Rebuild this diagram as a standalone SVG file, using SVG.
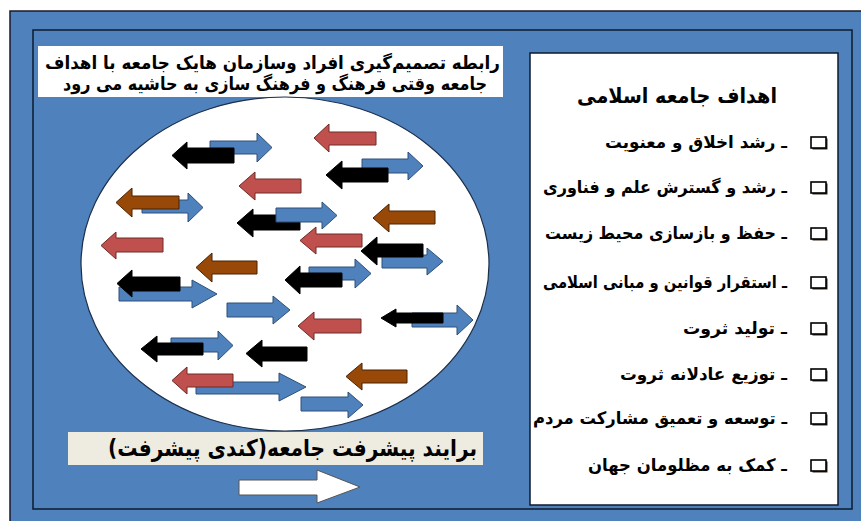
<svg xmlns="http://www.w3.org/2000/svg" xmlns:xlink="http://www.w3.org/1999/xlink" width="861" height="521" viewBox="0 0 861 521">
<style>
.t{font-family:"DejaVu Sans",sans-serif;font-weight:bold;fill:#000;}
.ab{fill:#4F81BD;stroke:#2E4F78;stroke-width:1;}
.ar{fill:#C0504D;stroke:#6E2A28;stroke-width:1;}
.an{fill:#984807;stroke:#4A2303;stroke-width:1;}
.ak{fill:#000;stroke:#000;stroke-width:1;}
</style>
<defs>
<g id="chk">
<rect x="1.5" y="1.5" width="15" height="11" fill="#3a2a1a"/>
<rect x="0" y="0" width="15" height="11" fill="#fff" stroke="#000" stroke-width="1.6"/>
</g>
</defs>
<rect x="0" y="0" width="861" height="521" fill="#fff"/>
<g id="frame">
<rect x="10" y="11" width="860" height="520" fill="#4F81BD" stroke="#1a1a2a" stroke-width="1.5"/>
<rect x="33" y="30" width="819" height="479" fill="#4F81BD" stroke="#0d1b2e" stroke-width="1.5"/>
</g>
<g id="title-box">
<rect x="38" y="46" width="465" height="51" fill="#fff"/>
<text class="t" x="272.5" y="69" font-size="18" text-anchor="middle" direction="rtl" textLength="455" lengthAdjust="spacingAndGlyphs">رابطه تصمیم‌گیری افراد وسازمان هایک جامعه با اهداف</text>
<text class="t" x="275" y="90" font-size="18" text-anchor="middle" direction="rtl" textLength="424" lengthAdjust="spacingAndGlyphs">جامعه وقتی فرهنگ و فرهنگ سازی به حاشیه می رود</text>
</g>
<g id="society-circle">
<ellipse cx="285" cy="264" rx="204" ry="167" fill="#fff" stroke="#1c2f4a" stroke-width="1.2"/>
</g>
<g id="arrows">
<path class="ab" d="M210 141H257V133L272 147.5L257 162V154H210Z"/>
<path class="ak" d="M234 148H187V142L172 155.5L187 169V163H234Z"/>
<path class="ar" d="M376 132H329V124L314 138L329 152V145H376Z"/>
<path class="ab" d="M362 159H408V152L423 166L408 180V173H362Z"/>
<path class="ak" d="M388 168H342V161L326 175L342 189V182H388Z"/>
<path class="ar" d="M301 179H255V172L239 186L255 200V193H301Z"/>
<path class="ab" d="M142 200H188V193L203 207.5L188 222V213H142Z"/>
<path class="an" d="M179 196H132V188L116 202.5L132 217V209H179Z"/>
<path class="ak" d="M300 215H253V209L237 223L253 237V230H300Z"/>
<path class="ab" d="M276 208H322V202L337 215.5L322 229V222H276Z"/>
<path class="an" d="M435 211H389V204L373 218L389 232V224H435Z"/>
<path class="ar" d="M163 238H116V232L101 245.5L116 259V252H163Z"/>
<path class="ar" d="M362 234H316V227L300 240.5L316 254V247H362Z"/>
<path class="ab" d="M382 255H427V248L443 261.5L427 275V268H382Z"/>
<path class="ak" d="M423 244H377V237L361 251L377 265V257H423Z"/>
<path class="an" d="M257 261H212V253L196 267.5L212 282V274H257Z"/>
<path class="ab" d="M119 287H192V280L217 294L192 308V301H119Z"/>
<path class="ak" d="M180 277H132V270L117 283.5L132 297V291H180Z"/>
<path class="ab" d="M309 267H355V259L371 273.5L355 288V280H309Z"/>
<path class="ak" d="M342 273H300V266L285 280L300 294V287H342Z"/>
<path class="ab" d="M227 303H273V296L290 310L273 324V317H227Z"/>
<path class="ar" d="M361 319H314V312L298 326L314 340V333H361Z"/>
<path class="ab" d="M412 313H457V305L473 320L457 335V327H412Z"/>
<path class="ak" d="M443 313H396V309L381 318L396 327V323H443Z"/>
<path class="ab" d="M171 338H218V331L233 345.5L218 360V352H171Z"/>
<path class="ak" d="M203 343H157V336L141 349L157 362V355H203Z"/>
<path class="ak" d="M307 347H262V340L246 353.5L262 367V361H307Z"/>
<path class="ab" d="M196 382H279V373L306 387L279 401V394H196Z"/>
<path class="ar" d="M233 374H187V367L172 380.5L187 394V387H233Z"/>
<path class="an" d="M407 370H362V363L346 376.5L362 390V383H407Z"/>
<path class="ab" d="M301 397H348V392L363 405L348 418V411H301Z"/>
</g>
<g id="result-box">
<rect x="68" y="432" width="415" height="33" fill="#EEECE1"/>
<text class="t" x="292.5" y="456" font-size="23" text-anchor="middle" direction="rtl" textLength="369" lengthAdjust="spacingAndGlyphs">برایند پیشرفت جامعه(کندی پیشرفت)</text>
</g>
<g id="progress-arrow">
<path d="M239 480H317V470L360 487L317 503V495H239Z" fill="#fff" stroke="#555" stroke-width="1"/>
</g>
<g id="goals-panel">
<rect x="530" y="53" width="308" height="452" fill="#fff" stroke="#0d1b2e" stroke-width="1.5"/>
<text class="t" x="677" y="103" font-size="21" text-anchor="middle" direction="rtl" textLength="200" lengthAdjust="spacingAndGlyphs">اهداف جامعه اسلامی</text>
<use xlink:href="#chk" x="811" y="137"/>
<text class="t" x="696" y="148" font-size="17" text-anchor="middle" direction="rtl" textLength="182" lengthAdjust="spacingAndGlyphs">ـ رشد اخلاق و معنویت</text>
<use xlink:href="#chk" x="811" y="182"/>
<text class="t" x="665" y="193" font-size="17" text-anchor="middle" direction="rtl" textLength="244" lengthAdjust="spacingAndGlyphs">ـ رشد و گسترش علم و فناوری</text>
<use xlink:href="#chk" x="811" y="228"/>
<text class="t" x="666" y="239" font-size="17" text-anchor="middle" direction="rtl" textLength="242" lengthAdjust="spacingAndGlyphs">ـ حفظ و بازسازی محیط زیست</text>
<use xlink:href="#chk" x="811" y="277"/>
<text class="t" x="665" y="288" font-size="17" text-anchor="middle" direction="rtl" textLength="244" lengthAdjust="spacingAndGlyphs">ـ استقرار قوانین و مبانی اسلامی</text>
<use xlink:href="#chk" x="811" y="323"/>
<text class="t" x="735" y="334" font-size="17" text-anchor="middle" direction="rtl" textLength="104" lengthAdjust="spacingAndGlyphs">ـ تولید ثروت</text>
<use xlink:href="#chk" x="811" y="369"/>
<text class="t" x="703.5" y="380" font-size="17" text-anchor="middle" direction="rtl" textLength="167" lengthAdjust="spacingAndGlyphs">ـ توزیع عادلانه ثروت</text>
<use xlink:href="#chk" x="811" y="413"/>
<text class="t" x="660" y="424" font-size="17" text-anchor="middle" direction="rtl" textLength="254" lengthAdjust="spacingAndGlyphs">ـ توسعه و تعمیق مشارکت مردم</text>
<use xlink:href="#chk" x="811" y="460"/>
<text class="t" x="687.5" y="471" font-size="17" text-anchor="middle" direction="rtl" textLength="199" lengthAdjust="spacingAndGlyphs">ـ کمک به مظلومان جهان</text>
</g>
</svg>
